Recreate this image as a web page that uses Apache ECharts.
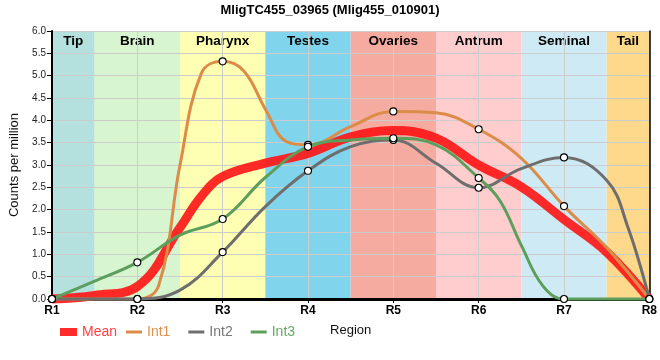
<!DOCTYPE html>
<html><head><meta charset="utf-8">
<script src="https://cdn.jsdelivr.net/npm/echarts@6/dist/echarts.min.js"></script>
<style>html,body{margin:0;padding:0;background:#fff}#c{width:660px;height:360px}</style>
</head><body><div id="c"></div>
<script>
const titleText = 'MligTC455_03965 (Mlig455_010901)';
const regionLabels = ['R1', 'R2', 'R3', 'R4', 'R5', 'R6', 'R7', 'R8'];
const meanX = [1, 1.5, 2, 2.5, 2.75, 3, 3.5, 4, 4.5, 5, 5.5, 6, 6.5, 7, 7.5, 8];
const meanY = [0, 0.08, 0.28, 1.6, 2.3, 2.74, 3.04, 3.26, 3.63, 3.77, 3.6, 3.0, 2.51, 1.78, 1.05, 0];
const int1X = [1, 1.5, 2, 2.25, 2.5, 2.75, 3, 3.25, 3.5, 3.75, 4, 4.5, 5, 5.5, 6, 6.5, 7, 7.5, 8];
const int1Y = [0, 0, 0, 0.3, 3.0, 5.05, 5.32, 5.1, 4.25, 3.52, 3.45, 3.86, 4.2, 4.17, 3.8, 3.15, 2.08, 1.15, 0];
const int2X = [1, 1.5, 2, 2.5, 3, 3.5, 4, 4.5, 5, 5.5, 6, 6.5, 7, 7.5, 7.75, 8];
const int2Y = [0, 0, 0, 0.2, 1.05, 2.07, 2.87, 3.41, 3.56, 3.04, 2.49, 2.92, 3.17, 2.66, 1.6, 0];
const int3X = [1, 1.5, 2, 2.5, 3, 3.5, 4, 4.5, 5, 5.5, 6, 6.25, 6.5, 6.75, 7, 7.5, 8];
const int3Y = [0, 0.4, 0.82, 1.43, 1.79, 2.72, 3.41, 3.56, 3.6, 3.45, 2.71, 2.2, 1.2, 0.3, 0, 0, 0];
const bandNames = ['Tip', 'Brain', 'Pharynx', 'Testes', 'Ovaries', 'Antrum', 'Seminal', 'Tail'];
const bandStart = [1, 1.5, 2.5, 3.5, 4.5, 5.5, 6.5, 7.5];
const bandEnd = [1.5, 2.5, 3.5, 4.5, 5.5, 6.5, 7.5, 8];
const bandColors = ['#b4e1dd', '#d7f6cf', '#ffffb4', '#80d4ec', '#f5ab9f', '#ffcdcd', '#ceebf5', '#fed88b'];

const FONT = "'Liberation Sans', Arial, sans-serif";

function withMarkers(xs, ys) {
  return xs.map((x, i) => Number.isInteger(x)
    ? { value: [x, ys[i]], symbol: 'circle', itemStyle: { color: '#ffffff', borderColor: '#000', borderWidth: 1.1 } }
    : { value: [x, ys[i]], symbol: 'none' });
}

const chart = echarts.init(document.getElementById('c'), null, { renderer: 'canvas' });
chart.setOption({
  animation: false,
  title: { text: titleText, left: 330, top: 4, padding: 0, textAlign: 'center',
    textStyle: { fontFamily: FONT, fontSize: 13, fontWeight: 'bold', color: '#000' } },
  legend: [
    { data: [{ name: 'Mean', icon: 'rect', textStyle: { color: '#ff4040' } }],
      left: 55, top: 320, itemWidth: 17, itemHeight: 8, itemGap: 18,
      textStyle: { fontFamily: FONT, fontSize: 14 } },
    { data: [
        { name: 'Int1', icon: 'rect', textStyle: { color: '#e0924f' } },
        { name: 'Int2', icon: 'rect', textStyle: { color: '#777777' } },
        { name: 'Int3', icon: 'rect', textStyle: { color: '#66a866' } }],
      left: 121, top: 320, itemWidth: 16, itemHeight: 3, itemGap: 18,
      textStyle: { fontFamily: FONT, fontSize: 14 } }
  ],
  grid: { left: 50, right: 9, top: 31, bottom: 61 },
  xAxis: [
    { type: 'value', min: 1, max: 8, interval: 1, z: 2,
      name: 'Region', nameLocation: 'middle', nameGap: 25,
      nameTextStyle: { fontFamily: FONT, fontSize: 13, color: '#111' },
      axisLine: { show: true, lineStyle: { color: '#000', width: 3 } },
      axisTick: { show: true, length: 4, lineStyle: { color: '#000' } },
      axisLabel: { formatter: v => regionLabels[v - 1], fontFamily: FONT, fontSize: 12, fontWeight: 'bold', color: '#000', margin: 6 },
      splitLine: { show: true, lineStyle: { color: '#cccccc', width: 1 } } },
    { type: 'value', min: 1, max: 8, position: 'top', z: 2,
      axisLine: { show: true, lineStyle: { color: '#000', width: 1.5 } },
      axisTick: { show: false }, axisLabel: { show: false }, splitLine: { show: false } }
  ],
  yAxis: [
    { type: 'value', min: 0, max: 6, interval: 0.5, z: 2,
      name: 'Counts per million', nameLocation: 'middle', nameGap: 31,
      nameTextStyle: { fontFamily: FONT, fontSize: 13, color: '#111' },
      axisLine: { show: true, lineStyle: { color: '#000', width: 2 } },
      axisTick: { show: true, length: 5, lineStyle: { color: '#000' } },
      axisLabel: { formatter: v => v.toFixed(1), fontFamily: FONT, fontSize: 10, color: '#222', margin: 6 },
      splitLine: { show: true, lineStyle: { color: '#cccccc', width: 1 } } },
    { type: 'value', min: 0, max: 6, position: 'right', z: 2,
      axisLine: { show: true, lineStyle: { color: '#000', width: 1.5 } },
      axisTick: { show: false }, axisLabel: { show: false }, splitLine: { show: false } }
  ],
  series: [
    { name: 'bands', type: 'line', data: [], z: 1, silent: true,
      markArea: { silent: true,
        label: { show: true, position: 'insideTop', distance: 3, fontFamily: FONT, fontSize: 13.5, fontWeight: 'bold', color: '#000' },
        data: bandNames.map((n, i) => [
          { name: n, xAxis: bandStart[i], itemStyle: { color: bandColors[i], opacity: 1 } },
          { xAxis: bandEnd[i] }]) } },
    { name: 'Mean', type: 'line', z: 3, smooth: 0.4, clip: false, showSymbol: false,
      data: meanX.map((x, i) => [x, meanY[i]]),
      itemStyle: { color: '#ff2a2a' },
      lineStyle: { color: 'rgba(255,20,20,0.9)', width: 9 } },
    { name: 'Int1', type: 'line', z: 4, smooth: 0.4, clip: false, symbolSize: 7,
      data: withMarkers(int1X, int1Y), itemStyle: { color: '#da8c48' },
      lineStyle: { color: '#da8c48', width: 3 } },
    { name: 'Int2', type: 'line', z: 4, smooth: 0.4, clip: false, symbolSize: 7,
      data: withMarkers(int2X, int2Y), itemStyle: { color: '#6e6e6e' },
      lineStyle: { color: '#6e6e6e', width: 3 } },
    { name: 'Int3', type: 'line', z: 4, smooth: 0.4, clip: false, symbolSize: 7,
      data: withMarkers(int3X, int3Y), itemStyle: { color: '#5d9e5d' },
      lineStyle: { color: '#5d9e5d', width: 3 } }
  ]
});
</script></body></html>
